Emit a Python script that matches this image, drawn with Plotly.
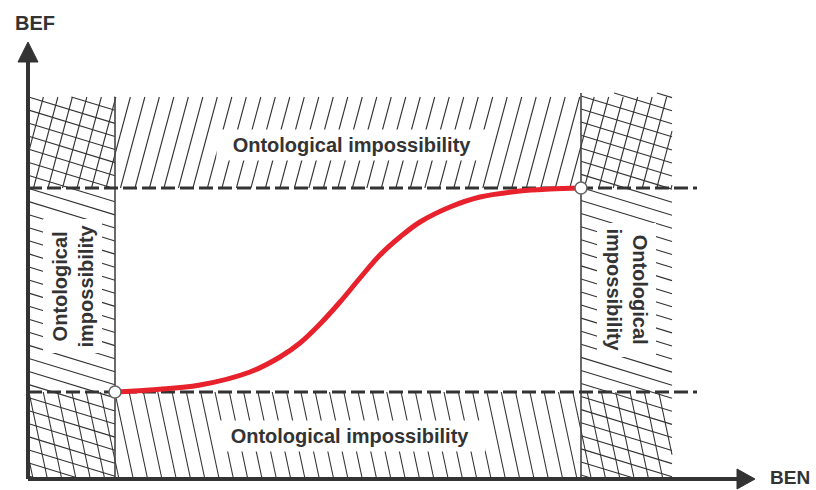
import math
import numpy as np
import plotly.graph_objects as go

# ---- data (chart units, origin at the axes' crossing) ----
ben = [87, 122, 172, 222, 252, 272, 292, 312, 332, 352, 372, 392, 422, 452, 492, 522, 553]
bef = [87, 89, 94, 107, 122, 136, 155, 177, 201, 224, 242, 257, 272, 282, 288, 290, 291]
ben_limits = [87, 553]
bef_limits = [87, 291]
outer_ben = 644
outer_bef = 382
axis_names = ["BEN", "BEF"]
region_label = "Ontological impossibility"
region_label_2l = "Ontological<br>impossibility"

INK = "#333333"
RED = "#e8222c"
FONT = "Liberation Sans, Arial, sans-serif"


def hatch(x0, x1, y0, y1, angle_deg, spacing, phase=0.0):
    th = math.radians(angle_deg)
    dx, dy = math.cos(th), math.sin(th)
    nx, ny = -dy, dx
    cs = [nx * x + ny * y for x in (x0, x1) for y in (y0, y1)]
    cmin, cmax = min(cs), max(cs)
    xs, ys = [], []
    c = math.floor((cmin - phase) / spacing) * spacing + phase
    while c <= cmax:
        px, py = c * nx, c * ny
        tlo, thi = -1e9, 1e9
        if abs(dx) > 1e-9:
            a, b = (x0 - px) / dx, (x1 - px) / dx
            tlo, thi = max(tlo, min(a, b)), min(thi, max(a, b))
        if abs(dy) > 1e-9:
            a, b = (y0 - py) / dy, (y1 - py) / dy
            tlo, thi = max(tlo, min(a, b)), min(thi, max(a, b))
        if thi - tlo > 0.5:
            xs += [px + tlo * dx, px + thi * dx, None]
            ys += [py + tlo * dy, py + thi * dy, None]
        c += spacing
    return xs, ys


fig = go.Figure()

x_lo, x_hi = ben_limits
y_lo, y_hi = bef_limits

regions = [
    # top row: steep "/"
    (0, outer_ben, y_hi, outer_bef, 75, 14.0, 0),
    # left column: shallow descending
    (0, x_lo, 0, outer_bef, -17, 12.5, 3),
    # right column: shallow descending
    (x_hi, outer_ben, 0, outer_bef + 4, -17, 12.5, 3),
    # bottom row: steep "\"
    (0, outer_ben, 0, y_lo, -78, 14.0, 5),
]
for (a, b, c, d, ang, sp, ph) in regions:
    hx, hy = hatch(a, b, c, d, ang, sp, ph)
    fig.add_trace(go.Scatter(x=hx, y=hy, mode="lines",
                             line=dict(color=INK, width=1.1),
                             hoverinfo="skip"))

# vertical boundary lines
fig.add_trace(go.Scatter(x=[x_lo, x_lo, None, x_hi, x_hi],
                         y=[0, outer_bef, None, 0, outer_bef + 4],
                         mode="lines", line=dict(color="#444444", width=1.6),
                         hoverinfo="skip"))

# dashed limit lines
for yv in bef_limits:
    fig.add_trace(go.Scatter(x=[0, outer_ben + 25], y=[yv, yv], mode="lines",
                             line=dict(color=INK, width=3, dash="14px,5px"),
                             hoverinfo="skip"))

# axes with arrowheads
fig.add_trace(go.Scatter(x=[0, 0, None, 0, 711], y=[418, 0, None, 0, 0],
                         mode="lines", line=dict(color=INK, width=4),
                         hoverinfo="skip"))
fig.add_trace(go.Scatter(x=[-10, 10, 0, -10], y=[417, 417, 437, 417],
                         mode="lines", fill="toself", fillcolor=INK,
                         line=dict(color=INK, width=1), hoverinfo="skip"))
fig.add_trace(go.Scatter(x=[709, 709, 727, 709], y=[-10, 10, 0, -10],
                         mode="lines", fill="toself", fillcolor=INK,
                         line=dict(color=INK, width=1), hoverinfo="skip"))

# red curve
fig.add_trace(go.Scatter(x=ben, y=bef, mode="lines",
                         line=dict(color=RED, width=5, shape="spline", smoothing=1.0),
                         hoverinfo="skip"))
# endpoints
fig.add_trace(go.Scatter(x=[ben[0], ben[-1]], y=[bef[0], bef[-1]], mode="markers",
                         marker=dict(size=12, color="white",
                                     line=dict(color="#666666", width=1.5)),
                         hoverinfo="skip"))

lab_font = dict(family=FONT, size=20, color=INK)
cx = (x_lo + x_hi) / 2
fig.add_annotation(x=cx + 4, y=(y_hi + outer_bef) / 2 - 2, text="<b>%s</b>" % region_label,
                   showarrow=False, font=lab_font, bgcolor="white", borderpad=4,
                   width=262)
fig.add_annotation(x=cx + 2, y=y_lo / 2, text="<b>%s</b>" % region_label,
                   showarrow=False, font=lab_font, bgcolor="white", borderpad=4,
                   width=262)
fig.add_annotation(x=x_lo / 2 + 1, y=(y_lo + y_hi) / 2 + 4, text="<b>%s</b>" % region_label_2l,
                   showarrow=False, font=lab_font, bgcolor="white", borderpad=5,
                   textangle=-90)
fig.add_annotation(x=(x_hi + outer_ben) / 2, y=(y_lo + y_hi) / 2, text="<b>%s</b>" % region_label_2l,
                   showarrow=False, font=lab_font, bgcolor="white", borderpad=5,
                   textangle=90)

# axis names
fig.add_annotation(x=7, y=456, text="<b>%s</b>" % axis_names[1], showarrow=False,
                   font=lab_font)
fig.add_annotation(x=762, y=2, text="<b>%s</b>" % axis_names[0], showarrow=False,
                   font=dict(family=FONT, size=19, color=INK))

fig.update_layout(
    width=816, height=490,
    margin=dict(l=0, r=0, t=0, b=0),
    paper_bgcolor="white", plot_bgcolor="white",
    showlegend=False,
    xaxis=dict(range=[-28, 788], visible=False, fixedrange=True),
    yaxis=dict(range=[-11, 479], visible=False, fixedrange=True),
)

fig.write_html("out.html", config={"displayModeBar": False},
               post_script="document.body.style.margin='0';")
